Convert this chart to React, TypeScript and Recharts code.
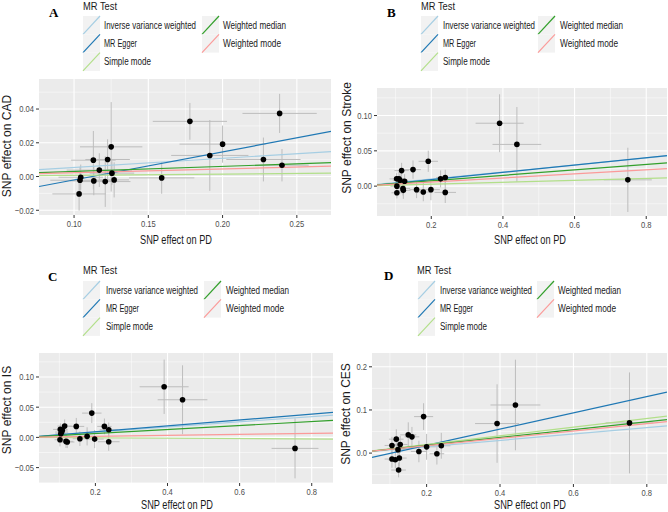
import React from "react";
import {
  CartesianGrid,
  ErrorBar,
  ReferenceLine,
  Scatter,
  ScatterChart,
  XAxis,
  YAxis,
} from "recharts";

const FONT = "'Liberation Sans', Arial, sans-serif";
// the original figure is squeezed horizontally, so horizontal text is narrowed
const SQUEEZE = 0.8;

// MR methods, in ggplot's factor order (drawing order)
const methods = ["Inverse variance weighted", "MR Egger", "Simple mode", "Weighted median", "Weighted mode"];
const methodColors = ["#a6cee3", "#1f78b4", "#b2df8a", "#33a02c", "#fb9a99"];
const methodLabelWidths = [92, 33, 47, 63, 58];

// A: CAD
const cadX = [0.1034, 0.104, 0.1045, 0.113, 0.1133, 0.117, 0.121, 0.1226, 0.125, 0.1255, 0.127, 0.159, 0.178, 0.1914, 0.2, 0.2275, 0.2384, 0.24];
const cadY = [-0.0103, -0.0022, -0.0004, 0.0097, -0.0026, 0.0038, -0.003, 0.0101, 0.0176, 0.002, -0.002, -0.0008, 0.0327, 0.0125, 0.0192, 0.0101, 0.0374, 0.0067];
const cadXErr = [0.018, 0.02, 0.015, 0.015, 0.016, 0.022, 0.017, 0.015, 0.021, 0.015, 0.01, 0.022, 0.025, 0.026, 0.029, 0.025, 0.025, 0.018];
const cadYErr = [0.0099, 0.008, 0.0075, 0.0173, 0.0085, 0.01, 0.015, 0.012, 0.0265, 0.007, 0.0104, 0.0094, 0.0109, 0.021, 0.011, 0.013, 0.0116, 0.0096];
const cadSlopes = [0.054, 0.166, 0.0073, 0.03, 0.0224];
const cadIntercepts = [0, -0.0186, 0, 0, 0];
const cadXTicks = [0.1, 0.15, 0.2, 0.25];
const cadYTicks = [-0.02, 0, 0.02, 0.04];

// B: Stroke
const strokeX = [0.1033, 0.1098, 0.1126, 0.1172, 0.1256, 0.104, 0.104, 0.121, 0.122, 0.149, 0.159, 0.1777, 0.1916, 0.199, 0.226, 0.239, 0.239, 0.3907, 0.439, 0.7487];
const strokeY = [0.0103, 0.0103, 0.0084, 0.022, 0.007, 0.0, -0.0094, -0.0033, -0.006, 0.0234, -0.005, -0.0084, 0.0352, -0.005, 0.0103, 0.0122, -0.0089, 0.0891, 0.0591, 0.0089];
const strokeXErr = [0.02, 0.015, 0.02, 0.02, 0.02, 0.018, 0.015, 0.02, 0.02, 0.022, 0.02, 0.022, 0.027, 0.025, 0.02, 0.025, 0.03, 0.067, 0.068, 0.067];
const strokeYErr = [0.008, 0.01, 0.009, 0.011, 0.01, 0.01, 0.008, 0.01, 0.012, 0.013, 0.012, 0.013, 0.015, 0.015, 0.012, 0.011, 0.015, 0.041, 0.053, 0.0455];
const strokeSlopes = [0.05, 0.0516, 0.0137, 0.0383, 0.029];
const strokeIntercepts = [0, -0.0011, 0, 0, 0];
const strokeXTicks = [0.2, 0.4, 0.6, 0.8];
const strokeYTicks = [0, 0.05, 0.1];

// C: IS
const isX = [0.1028, 0.1065, 0.1148, 0.108, 0.104, 0.1018, 0.1185, 0.122, 0.147, 0.157, 0.177, 0.19, 0.198, 0.225, 0.237, 0.237, 0.3907, 0.4417, 0.7537];
const isY = [0.0132, 0.0088, 0.0187, 0.012, 0.006, -0.0039, -0.0066, -0.0077, 0.0182, -0.0022, 0.0017, 0.0402, -0.0028, 0.0182, 0.0127, -0.0072, 0.0838, 0.0623, -0.0182];
const isXErr = [0.02, 0.018, 0.02, 0.015, 0.015, 0.015, 0.02, 0.02, 0.022, 0.02, 0.022, 0.027, 0.025, 0.02, 0.025, 0.03, 0.068, 0.069, 0.065];
const isYErr = [0.01, 0.01, 0.011, 0.009, 0.01, 0.011, 0.011, 0.01, 0.014, 0.012, 0.015, 0.0165, 0.015, 0.013, 0.012, 0.015, 0.045, 0.057, 0.0496];
const isSlopes = [0.043, 0.0486, -0.0033, 0.0327, 0.0084];
const isIntercepts = [0, -0.0004, 0, 0, 0];
const isXTicks = [0.2, 0.4, 0.6, 0.8];
const isYTicks = [-0.05, 0, 0.05, 0.1];

// D: CES
const cesX = [0.1056, 0.1174, 0.128, 0.1056, 0.1147, 0.1256, 0.1237, 0.122, 0.15, 0.16, 0.1918, 0.179, 0.2, 0.228, 0.24, 0.392, 0.442, 0.7528];
const cesY = [0.0177, 0.0323, 0.02, -0.0138, -0.0154, -0.0115, -0.0392, 0.008, 0.0423, 0.0377, 0.0846, 0.0038, 0.0145, -0.0015, 0.017, 0.0685, 0.1115, 0.07];
const cesXErr = [0.02, 0.02, 0.02, 0.02, 0.02, 0.02, 0.02, 0.018, 0.022, 0.02, 0.026, 0.022, 0.025, 0.02, 0.025, 0.06, 0.068, 0.065];
const cesYErr = [0.02, 0.023, 0.02, 0.02, 0.02, 0.02, 0.017, 0.02, 0.029, 0.023, 0.031, 0.025, 0.03, 0.025, 0.03, 0.091, 0.105, 0.117];
const cesSlopes = [0.0736, 0.188, 0.1005, 0.0907, 0.0852];
const cesIntercepts = [0, -0.0196, 0, 0, 0];
const cesXTicks = [0.2, 0.4, 0.6, 0.8];
const cesYTicks = [0, 0.1, 0.2];

type PanelSpec = {
  letter: string;
  outcome: string;
  left: number;
  top: number;
  x: number[];
  y: number[];
  xErr: number[];
  yErr: number[];
  slopes: number[];
  intercepts: number[];
  xTicks: number[];
  yTicks: number[];
  xMinor: number[];
  yMinor: number[];
  xDomain: [number, number];
  yDomain: [number, number];
  xDigits: number;
  yDigits: number;
  margin: { top: number; right: number; bottom: number; left: number };
  letterX: number;
  letterY: number;
  titleX: number;
  titleY: number;
  rowY: number[];
  keyX: number[];
  textX: number[];
  xLabelX: number;
  xLabelY: number;
  yLabelX: number;
  yLabelY: number;
};

const panels: PanelSpec[] = [
  {
    letter: "A", outcome: "CAD", left: 0, top: 0,
    x: cadX, y: cadY, xErr: cadXErr, yErr: cadYErr, slopes: cadSlopes, intercepts: cadIntercepts,
    xTicks: cadXTicks, yTicks: cadYTicks, xMinor: [0.125, 0.175, 0.225], yMinor: [-0.01, 0.01, 0.03, 0.05],
    xDomain: [0.0764, 0.273], yDomain: [-0.0228, 0.0578], xDigits: 2, yDigits: 2,
    margin: { top: 79, right: 3, bottom: 21, left: 9 },
    letterX: 49, letterY: 17, titleX: 83, titleY: 10, rowY: [16, 34.3, 52.6], keyX: [83, 202], textX: [104, 223],
    xLabelX: 176, xLabelY: 244, yLabelX: 11, yLabelY: 146,
  },
  {
    letter: "B", outcome: "Stroke", left: 334, top: 0,
    x: strokeX, y: strokeY, xErr: strokeXErr, yErr: strokeYErr, slopes: strokeSlopes, intercepts: strokeIntercepts,
    xTicks: strokeXTicks, yTicks: strokeYTicks, xMinor: [0.1, 0.3, 0.5, 0.7], yMinor: [-0.025, 0.025, 0.075, 0.125],
    xDomain: [0.0485, 0.858], yDomain: [-0.0423, 0.139], xDigits: 1, yDigits: 2,
    margin: { top: 88, right: 1, bottom: 20, left: 13 },
    letterX: 53, letterY: 17, titleX: 87, titleY: 10, rowY: [16, 34.3, 52.6], keyX: [87, 204], textX: [109, 226],
    xLabelX: 196, xLabelY: 244, yLabelX: 17, yLabelY: 138,
  },
  {
    letter: "C", outcome: "IS", left: 0, top: 256,
    x: isX, y: isY, xErr: isXErr, yErr: isYErr, slopes: isSlopes, intercepts: isIntercepts,
    xTicks: isXTicks, yTicks: isYTicks, xMinor: [0.1, 0.3, 0.5, 0.7], yMinor: [-0.075, -0.025, 0.025, 0.075, 0.125],
    xDomain: [0.0436, 0.859], yDomain: [-0.0755, 0.1397], xDigits: 1, yDigits: 2,
    margin: { top: 97, right: 1, bottom: 9, left: 9 },
    letterX: 48, letterY: 25, titleX: 83, titleY: 18, rowY: [25, 43.3, 61.6], keyX: [83, 204], textX: [106, 226],
    xLabelX: 177, xLabelY: 253, yLabelX: 11, yLabelY: 154,
  },
  {
    letter: "D", outcome: "CES", left: 334, top: 256,
    x: cesX, y: cesY, xErr: cesXErr, yErr: cesYErr, slopes: cesSlopes, intercepts: cesIntercepts,
    xTicks: cesXTicks, yTicks: cesYTicks, xMinor: [0.1, 0.3, 0.5, 0.7], yMinor: [-0.05, 0.05, 0.15],
    xDomain: [0.0512, 0.855], yDomain: [-0.0716, 0.232], xDigits: 1, yDigits: 1,
    margin: { top: 97, right: 1, bottom: 8, left: 8 },
    letterX: 50, letterY: 24, titleX: 83, titleY: 18, rowY: [25, 43.3, 61.6], keyX: [84, 203], textX: [106, 224],
    xLabelX: 196, xLabelY: 253, yLabelX: 16, yLabelY: 158,
  },
];

const fmt = (digits: number) => (v: number) => {
  const s = Math.abs(v).toFixed(digits);
  return v < 0 ? `\u2212${s}` : s;
};

const Dot = (props: any) => <circle cx={props.cx} cy={props.cy} r={2.8} fill="#000" />;

// narrowed tick label, same look as the squeezed original
const SqueezedTick = (props: any) => {
  const { x, y, payload, textAnchor, vertical, digits } = props;
  return (
    <text
      transform={`translate(${x},${y}) scale(${SQUEEZE},1)`}
      textAnchor={textAnchor}
      dy={vertical ? "0.35em" : "0.75em"}
      fontFamily={FONT}
      fontSize={9.5}
      fill="#4d4d4d"
    >
      {fmt(digits)(payload.value)}
    </text>
  );
};

function Panel({ p }: { p: PanelSpec }) {
  const data = p.x.map((x, i) => ({ x, y: p.y[i], ex: p.xErr[i], ey: p.yErr[i] }));
  const [x0, x1] = p.xDomain;
  const keyW = 17;
  const keyH = 18.3;

  return (
    <div style={{ position: "absolute", left: p.left, top: p.top, width: 334, height: 256 }}>
      <ScatterChart width={334} height={256} margin={p.margin}>
        <CartesianGrid
          fill="#ebebeb"
          stroke="#ffffff"
          strokeWidth={0.5}
          horizontalValues={p.yMinor}
          verticalValues={p.xMinor}
        />
        <CartesianGrid stroke="#ffffff" strokeWidth={1.1} horizontalValues={p.yTicks} verticalValues={p.xTicks} />
        <XAxis
          type="number"
          dataKey="x"
          domain={p.xDomain}
          ticks={p.xTicks}
          allowDataOverflow
          axisLine={false}
          tickLine={{ stroke: "#333" }}
          tickSize={3}
          tickMargin={2}
          tick={<SqueezedTick digits={p.xDigits} />}
          height={20}
        />
        <YAxis
          type="number"
          dataKey="y"
          domain={p.yDomain}
          ticks={p.yTicks}
          allowDataOverflow
          axisLine={false}
          tickLine={{ stroke: "#333" }}
          tickSize={3}
          tickMargin={2}
          tick={<SqueezedTick digits={p.yDigits} vertical />}
          width={30}
        />
        <Scatter data={data} isAnimationActive={false} shape={Dot}>
          <ErrorBar dataKey="ex" direction="x" width={0} stroke="#bdbdbd" strokeWidth={1} isAnimationActive={false} />
          <ErrorBar dataKey="ey" direction="y" width={0} stroke="#bdbdbd" strokeWidth={1} isAnimationActive={false} />
        </Scatter>
        {methods.map((m, i) => (
          <ReferenceLine
            key={m}
            segment={[
              { x: x0, y: p.intercepts[i] + p.slopes[i] * x0 },
              { x: x1, y: p.intercepts[i] + p.slopes[i] * x1 },
            ]}
            stroke={methodColors[i]}
            strokeWidth={1.2}
            ifOverflow="hidden"
          />
        ))}
      </ScatterChart>

      <svg
        width={334}
        height={256}
        style={{ position: "absolute", left: 0, top: 0, pointerEvents: "none" }}
      >
        <text x={p.letterX} y={p.letterY} fontFamily="'Liberation Serif', 'DejaVu Serif', serif" fontWeight="bold" fontSize={13}>
          {p.letter}
        </text>
        <text
          x={p.titleX}
          y={p.titleY}
          fontFamily={FONT}
          fontSize={11}
          fill="#1a1a1a"
          textLength={34}
          lengthAdjust="spacingAndGlyphs"
        >
          MR Test
        </text>
        {methods.map((m, i) => {
          const col = i < 3 ? 0 : 1;
          const row = i < 3 ? i : i - 3;
          const kx = p.keyX[col];
          const ky = p.rowY[row];
          return (
            <g key={m}>
              <rect x={kx} y={ky} width={keyW} height={keyH} fill="#f2f2f2" />
              <line x1={kx} y1={ky + keyH} x2={kx + keyW} y2={ky} stroke={methodColors[i]} strokeWidth={1.2} />
              <text
                x={p.textX[col]}
                y={ky + keyH / 2 + 3.6}
                fontFamily={FONT}
                fontSize={10}
                fill="#1a1a1a"
                textLength={methodLabelWidths[i]}
                lengthAdjust="spacingAndGlyphs"
              >
                {m}
              </text>
            </g>
          );
        })}
        <text
          x={p.xLabelX - 36}
          y={p.xLabelY}
          fontFamily={FONT}
          fontSize={12.5}
          fill="#1a1a1a"
          textLength={72}
          lengthAdjust="spacingAndGlyphs"
        >
          SNP effect on PD
        </text>
        <text
          x={p.yLabelX}
          y={p.yLabelY}
          textAnchor="middle"
          fontFamily={FONT}
          fontSize={12}
          fill="#1a1a1a"
          transform={`rotate(-90 ${p.yLabelX} ${p.yLabelY})`}
        >
          {`SNP effect on ${p.outcome}`}
        </text>
      </svg>
    </div>
  );
}

export default function App() {
  return (
    <div style={{ position: "absolute", left: 0, top: 0, width: 668, height: 512, background: "#fff" }}>
      {panels.map((p) => (
        <Panel key={p.letter} p={p} />
      ))}
    </div>
  );
}
